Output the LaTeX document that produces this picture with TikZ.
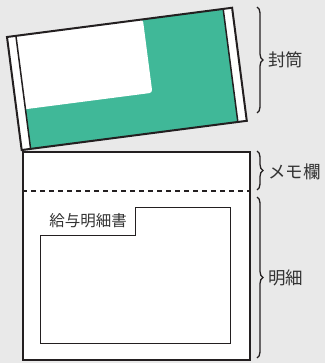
\documentclass[tikz,border=0pt]{standalone}
\usepackage{fontspec}
\newfontfamily\jp{Noto Sans CJK JP}
\usetikzlibrary{decorations.pathreplacing}
\definecolor{bg}{HTML}{E9E9E9}
\definecolor{env}{HTML}{40B898}
\definecolor{ink}{HTML}{231F20}
\definecolor{txt}{HTML}{333333}
\tikzset{
  outline/.style={draw=ink, line width=2pt},
  thin/.style={draw=ink, line width=1pt},
  bracedeco/.style={draw=ink, line width=1.3pt, decorate, decoration={brace, amplitude=6pt, aspect=0.5}},
  lbl/.style={font=\jp\fontsize{17.5}{17.5}\selectfont, text=txt, anchor=west, inner sep=0pt},
}
\begin{document}
\begin{tikzpicture}[x=1pt, y=-1pt]
\fill[bg] (0,0) rectangle (325,363);
\useasboundingbox (0,0) rectangle (325,363);
% lower sheet
\node[outline, fill=white, minimum width=227pt, minimum height=208pt, inner sep=0pt, anchor=north west] (sheet) at (22,151) {};
\coordinate (dl) at (22,191);
\coordinate (dr) at (249,191);
\draw[ink, line width=1.5pt, dash pattern=on 5pt off 4pt] (dl) -- (dr);
% payslip tabbed shape
\draw[thin, fill=white] (40,235) -- (135,235) -- (135,207) -- (230,207) -- (230,343) -- (40,343) -- cycle;
\node[font=\jp\fontsize{15.5}{15.5}\selectfont, text=txt, inner sep=0pt] (pay) at (88,221) {給与明細書};
% envelope
\begin{scope}[shift={(7,37)}, rotate=7.4]
  \fill[env] (0,0) rectangle (227,114);
  \fill[white, rounded corners=3pt] (5,0) -- (137,0) -- (137,74) -- (5,74) -- cycle;
  \fill[white] (0,0) rectangle (9,114);
  \fill[white] (218,0) rectangle (227,114);
  \draw[ink, line width=1.5pt] (9,0) -- (9,114);
  \draw[ink, line width=1.5pt] (218,0) -- (218,114);
  \draw[outline] (0,0) rectangle (227,114);
  \coordinate (envtl) at (0,0);
\end{scope}
% braces
\coordinate (b1t) at (257,7);
\coordinate (b1b) at (257,113);
\coordinate (b2t) at (257,151);
\coordinate (b2b) at (257,190);
\coordinate (b3t) at (257,197);
\coordinate (b3b) at (257,358);
\draw[bracedeco] (b1t) -- (b1b);
\draw[bracedeco] (b2t) -- (b2b);
\draw[bracedeco] (b3t) -- (b3b);
\node[lbl] (l1) at (268,60) {封筒};
\node[lbl] (l2) at (268,172) {メモ欄};
\node[lbl] (l3) at (268,278) {明細};
\end{tikzpicture}
\end{document}
